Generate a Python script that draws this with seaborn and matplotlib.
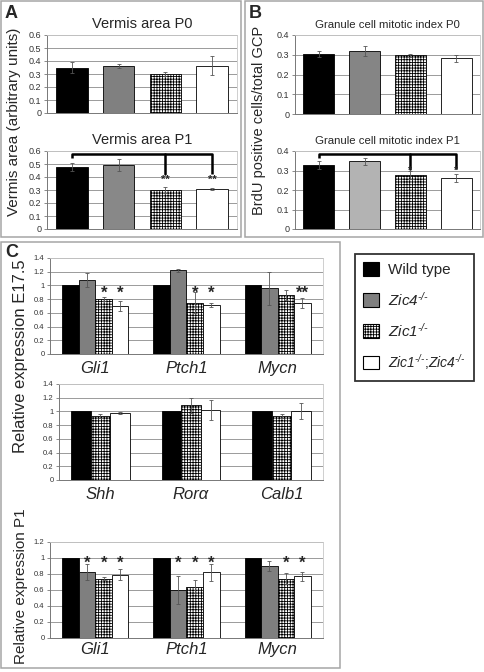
import numpy as np
import pandas as pd
import seaborn as sns
import matplotlib.pyplot as plt
from matplotlib.patches import Patch, Rectangle
from matplotlib.ticker import FuncFormatter, MultipleLocator

# ---- data ----
genotypes = ["Wild type", "Zic4", "Zic1", "Zic1;Zic4"]

# A: vermis area (arbitrary units)
vermis_p0 = [0.35, 0.365, 0.30, 0.365]
vermis_p0_err = [0.04, 0.015, 0.015, 0.075]
vermis_p1 = [0.48, 0.49, 0.30, 0.305]
vermis_p1_err = [0.03, 0.045, 0.02, 0.008]

# B: granule cell mitotic index
mitotic_p0 = [0.305, 0.318, 0.298, 0.282]
mitotic_p0_err = [0.015, 0.025, 0.008, 0.018]
mitotic_p1 = [0.33, 0.348, 0.275, 0.26]
mitotic_p1_err = [0.02, 0.018, 0.02, 0.02]

# C: relative expression E17.5 (hedgehog targets)
hh_genes = ["Gli1", "Ptch1", "Mycn"]
e175_wt = [1.0, 1.0, 1.0]
e175_zic4 = [1.08, 1.22, 0.96]
e175_zic4_err = [0.10, 0.02, 0.24]
e175_zic1 = [0.80, 0.75, 0.86]
e175_zic1_err = [0.03, 0.15, 0.07]
e175_dko = [0.70, 0.72, 0.74]
e175_dko_err = [0.08, 0.03, 0.07]
e175_stars_zic1 = ["*", "*", ""]
e175_stars_dko = ["*", "*", "**"]

# C: relative expression E17.5 (other genes, no Zic4 bars)
other_genes = ["Shh", "Rorα", "Calb1"]
other_wt = [1.0, 1.0, 1.0]
other_zic1 = [0.93, 1.09, 0.93]
other_zic1_err = [0.03, 0.11, 0.03]
other_dko = [0.98, 1.02, 1.01]
other_dko_err = [0.015, 0.15, 0.12]

# C: relative expression P1
p1_wt = [1.0, 1.0, 1.0]
p1_zic4 = [0.83, 0.60, 0.90]
p1_zic4_err = [0.10, 0.17, 0.06]
p1_zic1 = [0.74, 0.64, 0.74]
p1_zic1_err = [0.02, 0.08, 0.07]
p1_dko = [0.79, 0.82, 0.77]
p1_dko_err = [0.07, 0.11, 0.06]
p1_stars_zic4 = ["*", "*", ""]
p1_stars_zic1 = ["*", "*", "*"]
p1_stars_dko = ["*", "*", "*"]

sns.set_theme(style="white")
plt.rcParams["font.family"] = ["Liberation Sans", "DejaVu Sans"]
plt.rcParams["mathtext.fontset"] = "custom"
plt.rcParams["mathtext.it"] = "Liberation Sans:italic"
plt.rcParams["mathtext.rm"] = "Liberation Sans:italic"
plt.rcParams["hatch.linewidth"] = 0.6

HATCH = "++++++"
W, H = 484, 672
fig = plt.figure(figsize=(W / 100, H / 100), dpi=100)


def add_axes(x0, y0, x1, y1):
    return fig.add_axes([x0 / W, 1 - y1 / H, (x1 - x0) / W, (y1 - y0) / H])


def style_axes(ax, ymax, step, labelsize):
    ax.set_ylim(0, ymax)
    ax.yaxis.set_major_locator(MultipleLocator(step))
    ax.yaxis.set_major_formatter(FuncFormatter(lambda v, p: f"{v:g}"))
    ax.yaxis.grid(True, color="#9a9a9a", lw=0.7)
    ax.set_axisbelow(True)
    for side in ["left", "bottom"]:
        ax.spines[side].set_color("#777777")
        ax.spines[side].set_linewidth(0.7)
    for side in ["top", "right"]:
        ax.spines[side].set_color("#c8c8c8")
        ax.spines[side].set_linewidth(0.6)
    ax.tick_params(axis="y", length=2, width=0.6, color="#777777", pad=2,
                   labelsize=labelsize, labelcolor="#333333", left=True)
    ax.set_xlabel("")
    ax.set_ylabel("")


def add_errors(ax, patches, errs):
    for p, e in zip(patches, errs):
        if e > 0:
            ax.errorbar(p.get_x() + p.get_width() / 2, p.get_height(), yerr=e,
                        fmt="none", ecolor="#555555", elinewidth=0.6,
                        capsize=1.5, capthick=0.6)


def center(p):
    return p.get_x() + p.get_width() / 2


def single_panel(box, values, errs, ymax, step, title, tsize, zic4_color):
    ax = add_axes(*box)
    df = pd.DataFrame({"genotype": genotypes, "value": values})
    pal = ["black", zic4_color, "white", "white"]
    sns.barplot(data=df, x="genotype", y="value", hue="genotype", palette=pal,
                width=0.68, edgecolor="black", linewidth=0.6, errorbar=None,
                legend=False, ax=ax)
    ax.containers[2][0].set_hatch(HATCH)
    patches = [c[0] for c in ax.containers]
    add_errors(ax, patches, errs)
    style_axes(ax, ymax, step, 6.5)
    ax.set_xticks([])
    ax.set_title(title, fontsize=tsize, pad=5)
    return ax, patches


def grouped_panel(box, genes, series, errs, order, width, ymax, step, pad):
    ax = add_axes(*box)
    rows = []
    for g_name, vals in zip(order, series):
        for gene, v in zip(genes, vals):
            rows.append({"gene": gene, "genotype": g_name, "value": v})
    df = pd.DataFrame(rows)
    colors = {"Wild type": "black", "Zic4": "#7f7f7f", "Zic1": "white",
              "Zic1;Zic4": "white"}
    sns.barplot(data=df, x="gene", y="value", hue="genotype", hue_order=order,
                palette=[colors[o] for o in order], width=width, gap=0,
                edgecolor="black", linewidth=0.6, errorbar=None, legend=False,
                ax=ax)
    for g_name, cont, e in zip(order, ax.containers, errs):
        if g_name == "Zic1":
            for p in cont:
                p.set_hatch(HATCH)
        add_errors(ax, cont, e)
    style_axes(ax, ymax, step, 5.5)
    ax.tick_params(axis="x", length=0, pad=pad, labelsize=12)
    for lab in ax.get_xticklabels():
        lab.set_fontstyle("italic")
    return ax


def add_stars(ax, cont, stars, y, size):
    for p, s in zip(cont, stars):
        if s:
            ax.text(center(p), y, s, ha="center", va="center", fontsize=size,
                    fontweight="bold")


def bracket(ax, patches, y_top, y_left, y_right, lw=1.8):
    x0, x2, x3 = center(patches[0]), center(patches[2]), center(patches[3])
    ax.plot([x0, x0, x3, x3], [y_left, y_top, y_top, y_right], color="black",
            lw=lw, clip_on=False, solid_capstyle="butt")
    ax.plot([x2, x2], [y_top, y_right], color="black", lw=lw, clip_on=False)


# ---- panel A ----
single_panel((47, 35, 237, 113), vermis_p0, vermis_p0_err, 0.6, 0.1,
             "Vermis area P0", 10.5, "#808080")
ax, pa = single_panel((47, 151, 237, 229), vermis_p1, vermis_p1_err, 0.6, 0.1,
                      "Vermis area P1", 10.5, "#888888")
bracket(ax, pa, 0.575, 0.545, 0.42)
for p in pa[2:]:
    ax.text(center(p), 0.38, "**", ha="center", va="center", fontsize=8,
            fontweight="bold")

# ---- panel B ----
single_panel((295, 35, 480, 114), mitotic_p0, mitotic_p0_err, 0.4, 0.1,
             "Granule cell mitotic index P0", 8.2, "#858585")
ax, pb = single_panel((295, 151, 480, 229), mitotic_p1, mitotic_p1_err, 0.4,
                      0.1, "Granule cell mitotic index P1", 8.2, "#b3b3b3")
bracket(ax, pb, 0.385, 0.362, 0.31)
for p in pb[2:]:
    ax.text(center(p), 0.298, "*", ha="center", va="center", fontsize=7,
            fontweight="bold")

# ---- panel C ----
ax = grouped_panel((50, 258, 323, 354), hh_genes,
                   [e175_wt, e175_zic4, e175_zic1, e175_dko],
                   [[0, 0, 0], e175_zic4_err, e175_zic1_err, e175_dko_err],
                   genotypes, 0.725, 1.4, 0.2, 5)
add_stars(ax, ax.containers[2], e175_stars_zic1, 0.88, 12)
add_stars(ax, ax.containers[3], e175_stars_dko, 0.88, 12)

grouped_panel((59, 384, 323, 480), other_genes,
              [other_wt, other_zic1, other_dko],
              [[0, 0, 0], other_zic1_err, other_dko_err],
              ["Wild type", "Zic1", "Zic1;Zic4"], 0.65, 1.4, 0.2, 5)

ax = grouped_panel((50, 542, 323, 638), hh_genes,
                   [p1_wt, p1_zic4, p1_zic1, p1_dko],
                   [[0, 0, 0], p1_zic4_err, p1_zic1_err, p1_dko_err],
                   genotypes, 0.725, 1.2, 0.2, 3)
add_stars(ax, ax.containers[1], p1_stars_zic4, 0.93, 12)
add_stars(ax, ax.containers[2], p1_stars_zic1, 0.93, 12)
add_stars(ax, ax.containers[3], p1_stars_dko, 0.93, 12)

# ---- axis labels, panel letters, boxes ----
fig.text(14 / W, 1 - 122 / H, "Vermis area (arbitrary units)", rotation=90,
         ha="center", va="center", fontsize=11)
fig.text(259 / W, 1 - 120 / H, "BrdU positive cells/total GCP", rotation=90,
         ha="center", va="center", fontsize=10.5)
fig.text(21 / W, 1 - 356 / H, "Relative expression E17.5", rotation=90,
         ha="center", va="center", fontsize=12)
fig.text(21 / W, 1 - 586 / H, "Relative expression P1", rotation=90,
         ha="center", va="center", fontsize=11)
for letter, x, y in [("A", 5, 5), ("B", 249, 5), ("C", 5, 244)]:
    fig.text(x / W, 1 - y / H, letter, ha="left", va="top", fontsize=13,
             fontweight="bold")

for x0, y0, x1, y1 in [(1, 1, 241, 237), (245, 1, 483, 237), (1, 242, 340, 668)]:
    fig.add_artist(Rectangle((x0 / W, 1 - y1 / H), (x1 - x0) / W, (y1 - y0) / H,
                             transform=fig.transFigure, fill=False,
                             edgecolor="#a6a6a6", lw=1.1))

# ---- legend ----
handles = [
    Patch(facecolor="black", edgecolor="black", lw=0.8),
    Patch(facecolor="#7f7f7f", edgecolor="black", lw=0.8),
    Patch(facecolor="white", edgecolor="black", lw=0.8, hatch=HATCH),
    Patch(facecolor="white", edgecolor="black", lw=0.8),
]
labels = ["Wild type", r"$\mathit{Zic4}^{\text{-/-}}$",
          r"$\mathit{Zic1}^{\text{-/-}}$",
          r"$\mathit{Zic1}^{\text{-/-}}$;$\mathit{Zic4}^{\text{-/-}}$"]
leg = fig.legend(handles, labels, loc="upper left",
                 bbox_to_anchor=(355 / W, 1 - 254 / H), fontsize=11,
                 frameon=True, fancybox=False, edgecolor="black",
                 handlelength=1.0, handleheight=1.0, labelspacing=0.85,
                 handletextpad=0.6, borderpad=0.55, borderaxespad=0)
leg.get_frame().set_linewidth(1.3)
leg.get_texts()[3].set_fontsize(10)

fig.savefig("out.png", dpi=100)
